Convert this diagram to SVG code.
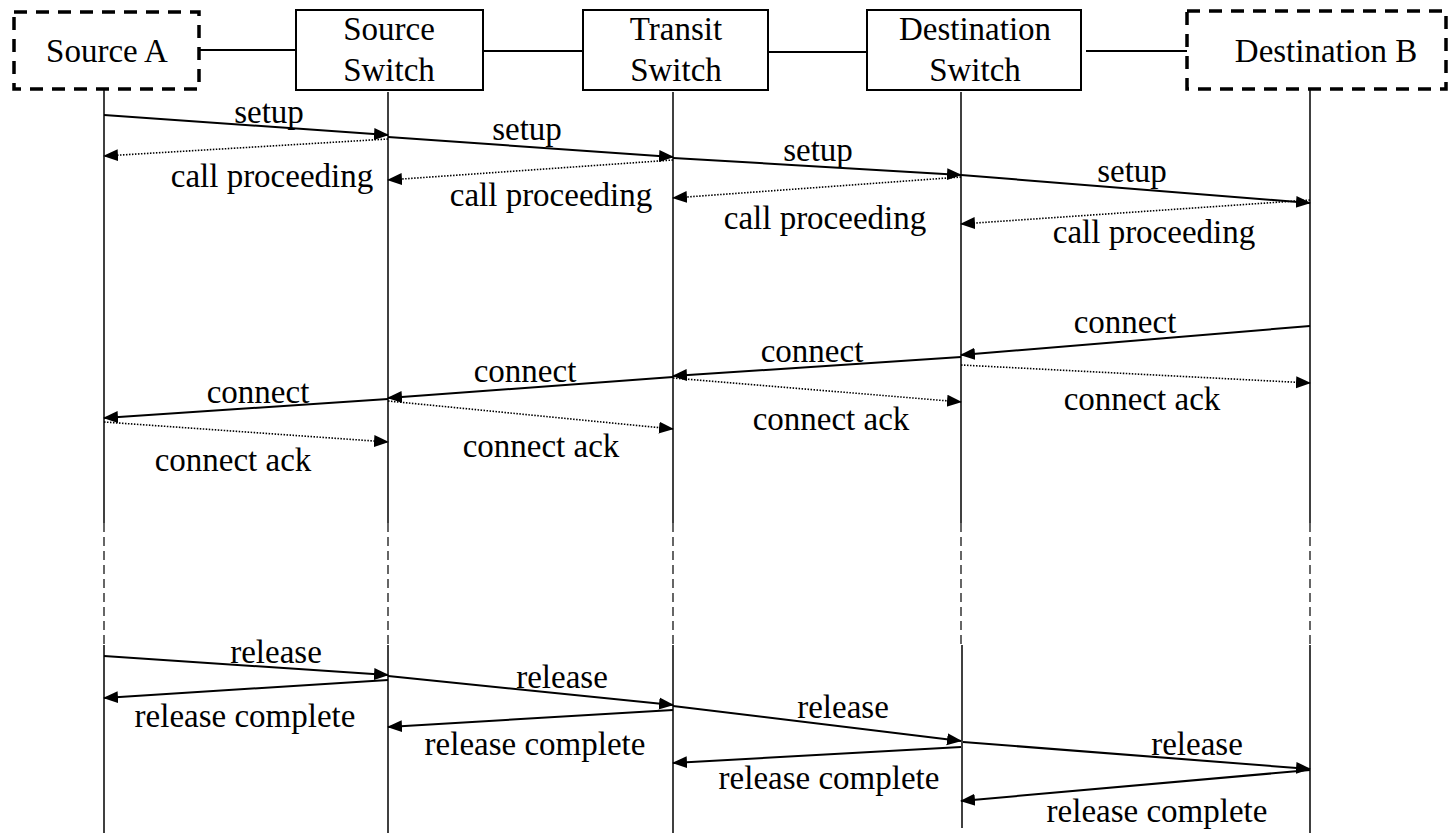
<svg xmlns="http://www.w3.org/2000/svg" width="1450" height="833" viewBox="0 0 1450 833">
<style>
text{font-family:"Liberation Serif","Times New Roman",serif;font-size:33px;fill:#000;text-anchor:middle}
.box{fill:#fff;stroke:#000;stroke-width:2}
.dbox{fill:#fff;stroke:#000;stroke-width:3.5;stroke-dasharray:13 9}
.link{stroke:#000;stroke-width:2;fill:none}
.life{stroke:#000;stroke-width:1.5;fill:none}
.lifed{stroke:#000;stroke-width:1.2;fill:none;stroke-dasharray:9 5}
.msg{stroke:#000;stroke-width:2;fill:none;marker-end:url(#ah)}
.dot{stroke:#000;stroke-width:1.6;fill:none;stroke-dasharray:1.5 1.5;marker-end:url(#ah)}
</style>
<defs>
<marker id="ah" markerUnits="userSpaceOnUse" markerWidth="15" markerHeight="14" viewBox="0 0 15 14" refX="14" refY="7" orient="auto">
<path d="M0,1 L15,7 L0,13 Z" fill="#000"/>
</marker>
</defs>
<rect width="1450" height="833" fill="#fff"/>
<g id="links">
<line class="link" x1="199" y1="50" x2="296" y2="50"/>
<line class="link" x1="483" y1="51" x2="583" y2="51"/>
<line class="link" x1="768" y1="52" x2="867" y2="52"/>
<line class="link" x1="1086" y1="51" x2="1187" y2="51"/>
</g>
<g id="lifelines">
<line class="life" x1="104" y1="89" x2="104" y2="523"/>
<line class="lifed" x1="104" y1="523" x2="104" y2="645"/>
<line class="life" x1="104" y1="645" x2="104" y2="833"/>
<line class="life" x1="388" y1="92" x2="388" y2="523"/>
<line class="lifed" x1="388" y1="523" x2="388" y2="645"/>
<line class="life" x1="388" y1="645" x2="388" y2="833"/>
<line class="life" x1="673" y1="92" x2="673" y2="523"/>
<line class="lifed" x1="673" y1="523" x2="673" y2="645"/>
<line class="life" x1="673" y1="645" x2="673" y2="833"/>
<line class="life" x1="961" y1="92" x2="961" y2="523"/>
<line class="lifed" x1="961" y1="523" x2="961" y2="645"/>
<line class="life" x1="962" y1="645" x2="962" y2="828"/>
<line class="life" x1="1310" y1="89" x2="1310" y2="523"/>
<line class="lifed" x1="1310" y1="523" x2="1310" y2="645"/>
<line class="life" x1="1310" y1="645" x2="1310" y2="833"/>
</g>
<g id="sourceA">
<rect class="dbox" x="14" y="12" width="185" height="77"/>
<text x="107" y="62">Source A</text>
</g>
<g id="sourceSwitch">
<rect class="box" x="296" y="10" width="187" height="80"/>
<text x="389" y="40">Source</text>
<text x="389" y="81">Switch</text>
</g>
<g id="transitSwitch">
<rect class="box" x="583" y="10" width="185" height="80"/>
<text x="676" y="40">Transit</text>
<text x="676" y="81">Switch</text>
</g>
<g id="destSwitch">
<rect class="box" x="867" y="10" width="214" height="80"/>
<text x="975" y="40">Destination</text>
<text x="975" y="81">Switch</text>
</g>
<g id="destB">
<rect class="dbox" x="1187" y="11" width="259" height="78"/>
<text x="1326" y="62">Destination B</text>
</g>
<g id="connectors">
<line class="msg" x1="104" y1="115" x2="388" y2="135"/>
<line class="dot" x1="388" y1="139" x2="104" y2="156"/>
<line class="msg" x1="388" y1="137" x2="673" y2="157"/>
<line class="dot" x1="673" y1="160" x2="388" y2="180"/>
<line class="msg" x1="673" y1="158" x2="961" y2="175"/>
<line class="dot" x1="961" y1="177" x2="673" y2="198"/>
<line class="msg" x1="961" y1="175" x2="1310" y2="203"/>
<line class="dot" x1="1310" y1="200" x2="961" y2="224"/>

<line class="msg" x1="1310" y1="326" x2="961" y2="355"/>
<line class="msg" x1="961" y1="357" x2="673" y2="376"/>
<line class="dot" x1="961" y1="365" x2="1310" y2="383"/>
<line class="msg" x1="673" y1="377" x2="388" y2="398"/>
<line class="dot" x1="673" y1="378" x2="961" y2="402"/>
<line class="msg" x1="388" y1="399" x2="104" y2="418"/>
<line class="dot" x1="388" y1="401" x2="673" y2="429"/>
<line class="dot" x1="104" y1="422" x2="388" y2="442"/>

<line class="msg" x1="104" y1="656" x2="388" y2="675"/>
<line class="msg" x1="388" y1="680" x2="104" y2="698"/>
<line class="msg" x1="388" y1="676" x2="673" y2="705"/>
<line class="msg" x1="673" y1="710" x2="388" y2="727"/>
<line class="msg" x1="673" y1="706" x2="961" y2="741"/>
<line class="msg" x1="961" y1="747" x2="673" y2="763"/>
<line class="msg" x1="963" y1="742" x2="1310" y2="769"/>
<line class="msg" x1="1310" y1="770" x2="961" y2="801"/>
</g>
<g id="labels">
<text x="269" y="123">setup</text>
<text x="272" y="187">call proceeding</text>
<text x="527" y="140">setup</text>
<text x="551" y="206">call proceeding</text>
<text x="818" y="161">setup</text>
<text x="825" y="229">call proceeding</text>
<text x="1132" y="182">setup</text>
<text x="1154" y="243">call proceeding</text>

<text x="1125" y="333">connect</text>
<text x="812" y="362">connect</text>
<text x="525" y="382">connect</text>
<text x="258" y="403">connect</text>
<text x="1142" y="410">connect ack</text>
<text x="831" y="430">connect ack</text>
<text x="541" y="457">connect ack</text>
<text x="233" y="471">connect ack</text>

<text x="276" y="663">release</text>
<text x="245" y="727">release complete</text>
<text x="562" y="688">release</text>
<text x="535" y="755">release complete</text>
<text x="843" y="718">release</text>
<text x="829" y="789">release complete</text>
<text x="1197" y="755">release</text>
<text x="1157" y="822">release complete</text>
</g>
</svg>
